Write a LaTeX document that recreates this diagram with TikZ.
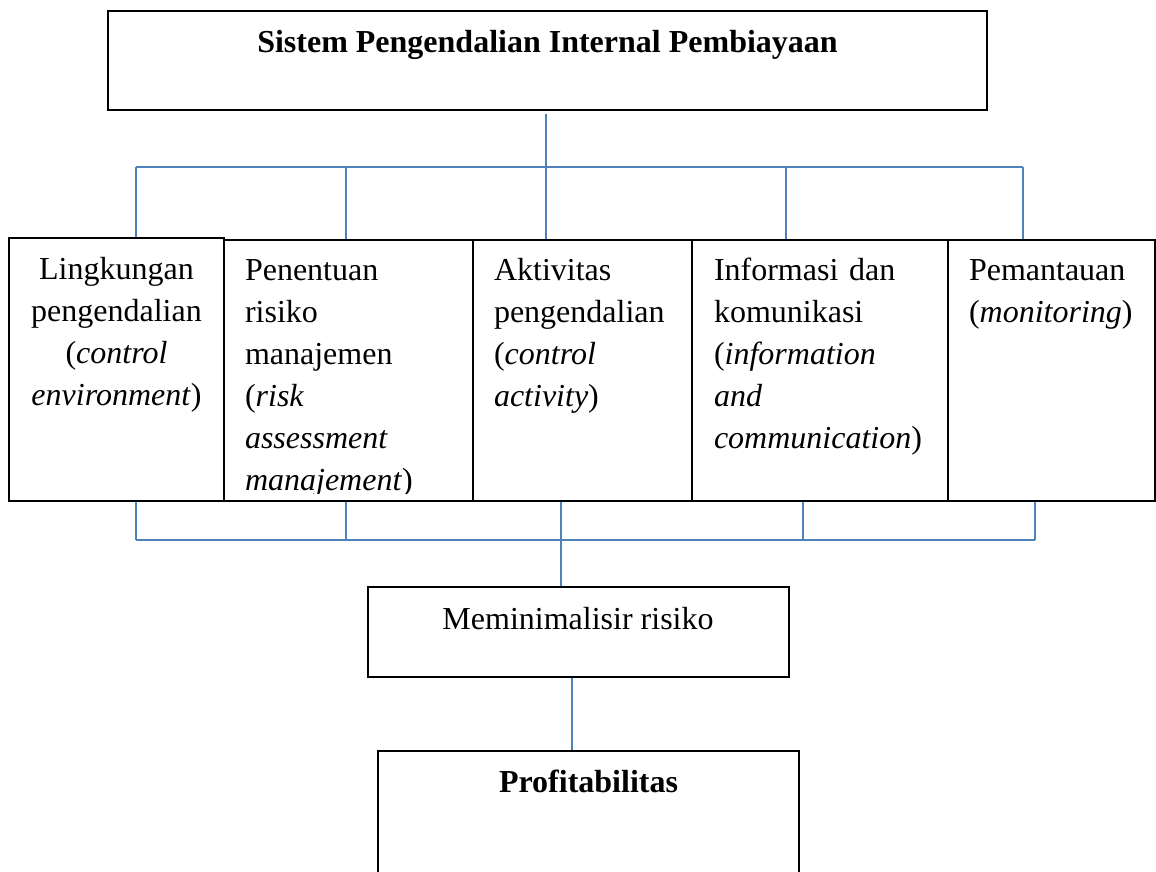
\documentclass[tikz,border=0pt]{standalone}
\usepackage{fontspec}
\setmainfont{Liberation Serif}
\definecolor{connblue}{RGB}{79,129,189}
\tikzset{
  boxnode/.style={draw=black, line width=1.8pt, inner sep=0pt, rectangle},
  conline/.style={draw=connblue, line width=1.4pt},
  txt/.style={inner sep=0pt, outer sep=0pt, font=\fontsize{32}{42}\selectfont},
  ltxt/.style={txt, anchor=base west, text width=235pt, align=left},
}
\begin{document}
\begin{tikzpicture}[x=1pt,y=-1pt]
\useasboundingbox (0,0) rectangle (1156,871);
\clip (0,0) rectangle (1156,871);
\fill[white] (0,0) rectangle (1156,871);

% boxes
\node[boxnode, minimum width=879pt, minimum height=99pt] (top) at (547.5,60.5) {};
\node[boxnode, minimum width=215pt, minimum height=263pt] (b1) at (116.5,369.5) {};
\node[boxnode, minimum width=249pt, minimum height=261pt] (b2) at (348.5,370.5) {};
\node[boxnode, minimum width=219pt, minimum height=261pt] (b3) at (582.5,370.5) {};
\node[boxnode, minimum width=256pt, minimum height=261pt] (b4) at (820,370.5) {};
\node[boxnode, minimum width=207pt, minimum height=261pt] (b5) at (1051.5,370.5) {};
\node[boxnode, minimum width=421pt, minimum height=90pt] (mm) at (578.5,632) {};
\node[boxnode, minimum width=421pt, minimum height=149pt] (pr) at (588.5,825.5) {};

% texts
\node[txt, anchor=base, font=\fontsize{32}{42}\selectfont\bfseries] (ttop) at (547.5,52) {Sistem Pengendalian Internal Pembiayaan};
\node[txt, anchor=base, text width=210pt, align=center] (t1) at (116.5,279)
  {Lingkungan\\pengendalian\\(\textit{control}\\\textit{environment})};
\begin{scope}
  \clip (224,240) rectangle (473,493);
  \node[ltxt] (t2) at (245,280)
    {Penentuan\\risiko\\manajemen\\(\textit{risk}\\\textit{assessment}\\\textit{manajement})};
\end{scope}
\node[ltxt] (t3) at (494,280) {Aktivitas\\pengendalian\\(\textit{control}\\\textit{activity})};
\node[ltxt] (t4) at (714,280) {Informasi dan\\komunikasi\\(\textit{information}\\\textit{and}\\\textit{communication})};
\node[ltxt, text width=190pt] (t5) at (969,280) {Pemantauan\\(\textit{monitoring})};
\node[txt, anchor=base] (tmm) at (578,629) {Meminimalisir risiko};
\node[txt, anchor=base, font=\fontsize{32}{42}\selectfont\bfseries] (tpr) at (588.5,792) {Profitabilitas};

% upper connectors
\coordinate (u1) at (136,167);
\coordinate (u2) at (346,167);
\coordinate (u3) at (546,167);
\coordinate (u4) at (786,167);
\coordinate (u5) at (1023,167);
\draw[conline, shorten <=3pt] (top.south -| u3) -- (u3 |- b3.north);
\draw[conline] (u1) -- (u5);
\draw[conline] (u1) -- (u1 |- b1.north);
\draw[conline] (u2) -- (u2 |- b2.north);
\draw[conline] (u4) -- (u4 |- b4.north);
\draw[conline] (u5) -- (u5 |- b5.north);

% lower connectors
\coordinate (d1) at (136,540);
\coordinate (d2) at (346,540);
\coordinate (d3) at (561,540);
\coordinate (d4) at (803,540);
\coordinate (d5) at (1035,540);
\draw[conline] (d1 |- b1.south) -- (d1);
\draw[conline] (d2 |- b2.south) -- (d2);
\draw[conline] (d3 |- b3.south) -- (d3);
\draw[conline] (d4 |- b4.south) -- (d4);
\draw[conline] (d5 |- b5.south) -- (d5);
\draw[conline] (d1) -- (d5);
\draw[conline] (d3) -- (d3 |- mm.north);

\coordinate (e) at (572,714);
\draw[conline] (e |- mm.south) -- (e |- pr.north);
\end{tikzpicture}
\end{document}
